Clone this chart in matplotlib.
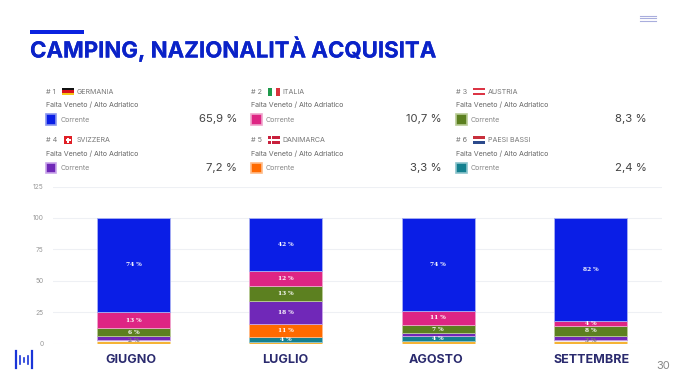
import numpy as np
import matplotlib
matplotlib.use('Agg')
import matplotlib.pyplot as plt
import matplotlib.patheffects as pe
from matplotlib.patches import Rectangle

W, H = 680, 383

months = ['GIUGNO', 'LUGLIO', 'AGOSTO', 'SETTEMBRE']
series_colors = ['#f5b335', '#f3eef2', '#14808f', '#ff6a00', '#7028b8', '#5c8020', '#de2584', '#0a1ee6']
border_colors = ['#fbdc96', '#f3eef2', '#8cc4cc', '#ffbb88', '#c9a6ea', '#b9cc96', '#f0a4cc', '#a8b0f4']

altri = [2, 1, 2, 2]
altri_chiaro = [1, 0, 0, 1]
paesi_bassi = [0, 4, 4, 0]
danimarca = [0, 10.5, 0, 0]
svizzera = [3, 18, 2, 3]
austria = [6, 12.5, 7, 8]
italia = [13, 12, 11, 4]
germania = [75, 42, 74, 82]
values = [altri, altri_chiaro, paesi_bassi, danimarca, svizzera, austria, italia, germania]

labels = [
    ['', '', '', ''],
    ['2 %', '', '', '3 %'],
    ['', '4 %', '4 %', ''],
    ['', '11 %', '', ''],
    ['', '18 %', '', ''],
    ['6 %', '13 %', '7 %', '8 %'],
    ['13 %', '12 %', '11 %', '4 %'],
    ['74 %', '42 %', '74 %', '82 %'],
]

ranks = ['# 1', '# 2', '# 3', '# 4', '# 5', '# 6']
countries = ['GERMANIA', 'ITALIA', 'AUSTRIA', 'SVIZZERA', 'DANIMARCA', 'PAESI BASSI']
shares = ['65,9 %', '10,7 %', '8,3 %', '7,2 %', '3,3 %', '2,4 %']
card_colors = ['#0a1ee6', '#de2584', '#5c8020', '#7028b8', '#ff6a00', '#14808f']
card_borders = ['#8a96ee', '#f0a4cc', '#b9cc96', '#c9a6ea', '#ffbb88', '#8cc4cc']

yticks = [0, 25, 50, 75, 100, 125]

plt.rcParams['font.family'] = ['Inter', 'DejaVu Sans']
fig = plt.figure(figsize=(W / 100, H / 100), dpi=100)

# page layer in pixel coordinates
page = fig.add_axes([0, 0, 1, 1])
page.set_xlim(0, W)
page.set_ylim(H, 0)
page.axis('off')

page.add_patch(Rectangle((30, 30), 54, 3.5, color='#0a22e0', lw=0))
page.text(30, 49.5, 'CAMPING, NAZIONALITÀ ACQUISITA', fontsize=16, fontweight='bold',
          color='#0a22c8', va='center', ha='left',
          path_effects=[pe.withStroke(linewidth=0.15, foreground='#0a22c8')])
for y in [15.5, 18, 20.5]:
    page.plot([639.5, 656], [y, y], color='#a9aedd', lw=0.8)


def flag(kind, x, y):
    w, h = 12, 8
    if kind == 'GERMANIA':
        for i, c in enumerate(['#111111', '#d8121c', '#f5c518']):
            page.add_patch(Rectangle((x, y + i * h / 3), w, h / 3, color=c, lw=0))
    elif kind == 'ITALIA':
        for i, c in enumerate(['#1f9a4c', '#ffffff', '#d9323c']):
            page.add_patch(Rectangle((x + i * w / 3, y), w / 3, h, color=c, lw=0))
    elif kind == 'AUSTRIA':
        for i, c in enumerate(['#dc3545', '#ffffff', '#dc3545']):
            page.add_patch(Rectangle((x, y + i * h / 3), w, h / 3, color=c, lw=0))
    elif kind == 'PAESI BASSI':
        for i, c in enumerate(['#c8303c', '#ffffff', '#2c4a8c']):
            page.add_patch(Rectangle((x, y + i * h / 3), w, h / 3, color=c, lw=0))
    elif kind == 'SVIZZERA':
        page.add_patch(Rectangle((x + 2, y), 8, 8, color='#e01f26', lw=0))
        page.add_patch(Rectangle((x + 3.5, y + 3.2), 5, 1.6, color='#ffffff', lw=0))
        page.add_patch(Rectangle((x + 5.2, y + 1.5), 1.6, 5, color='#ffffff', lw=0))
    elif kind == 'DANIMARCA':
        page.add_patch(Rectangle((x, y), w, h, color='#c8203c', lw=0))
        page.add_patch(Rectangle((x, y + 3.3), w, 1.4, color='#ffffff', lw=0))
        page.add_patch(Rectangle((x + 3.5, y), 1.4, h, color='#ffffff', lw=0))


card_x = [45.5, 251, 456]
card_y = [91.5, 140]
for i in range(6):
    cx = card_x[i % 3]
    cy = card_y[i // 3]
    page.text(cx, cy, ranks[i], fontsize=5.2, color='#777777', va='center')
    flag(countries[i], cx + 16.5, cy - 4)
    page.text(cx + 31.5, cy, countries[i], fontsize=5.1, color='#777777', va='center')
    page.text(cx, cy + 13.3, 'Faita Veneto / Alto Adriatico', fontsize=5.1, color='#666666', va='center')
    page.add_patch(Rectangle((cx + 0.3, cy + 22.5), 10.5, 10.5, fc=card_colors[i], ec=card_borders[i], lw=1.2))
    page.text(cx + 15, cy + 28, 'Corrente', fontsize=5.1, color='#888888', va='center')
page_right = [237, 442, 647]
for i in range(6):
    page.text(page_right[i % 3], card_y[i // 3] + 28, shares[i], fontsize=8.2, color='#444444',
              va='center', ha='right')

# logo
page.plot([16, 16], [350.5, 367.5], color='#1a35d8', lw=1.6)
page.plot([32, 32], [350.5, 367.5], color='#1a35d8', lw=1.6)
page.plot([20.3, 20.3], [356, 363.5], color='#1a35d8', lw=1.2)
page.plot([24, 24], [358, 361.5], color='#1a35d8', lw=1.2)
page.plot([27.7, 27.7], [356, 363.5], color='#1a35d8', lw=1.2)

page.text(670.5, 366, '30', fontsize=8, color='#888888', ha='right', va='center')

# chart
left, right, top, bottom = 53, 662, 186.5, 343.5
ax = fig.add_axes([left / W, 1 - bottom / H, (right - left) / W, (bottom - top) / H])
ax.patch.set_alpha(0)
ax.set_ylim(0, 125)
ax.set_xlim(-0.5 - 0.03, 3.5 - 0.03)
x = np.arange(len(months))
base = np.zeros(len(months))
for vals, col, bcol, labs in zip(values, series_colors, border_colors, labels):
    vals = np.array(vals, dtype=float)
    ax.bar(x, vals, bottom=base, width=0.48, color=col, edgecolor=bcol, linewidth=0.6, zorder=3)
    for xi, v, b, lab in zip(x, vals, base, labs):
        if lab:
            lab_col = '#777777' if col == '#f3eef2' else 'white'
            ax.text(xi, b + v / 2, lab, color=lab_col, fontsize=4.2, fontweight='bold', family='DejaVu Serif',
                    ha='center', va='center', zorder=4)
    base += vals

ax.set_yticks(yticks)
ax.set_yticklabels([str(t) for t in yticks], fontsize=4.8, color='#999999')
ax.set_xticks(x)
ax.set_xticklabels([])
ax.tick_params(axis='y', length=0, pad=7)
ax.tick_params(axis='x', length=0)
ax.grid(axis='y', color='#eef0f4', lw=0.8, zorder=0)
for s in ax.spines.values():
    s.set_visible(False)

# month names sit slightly off the bar centres in the original
month_x = [130.5, 285, 436.5, 592]
for name, mx in zip(months, month_x):
    page.text(mx, 360, name, fontsize=9, fontweight='bold', color='#2a2a6e', ha='center', va='center')

fig.savefig('out.png', dpi=100)
